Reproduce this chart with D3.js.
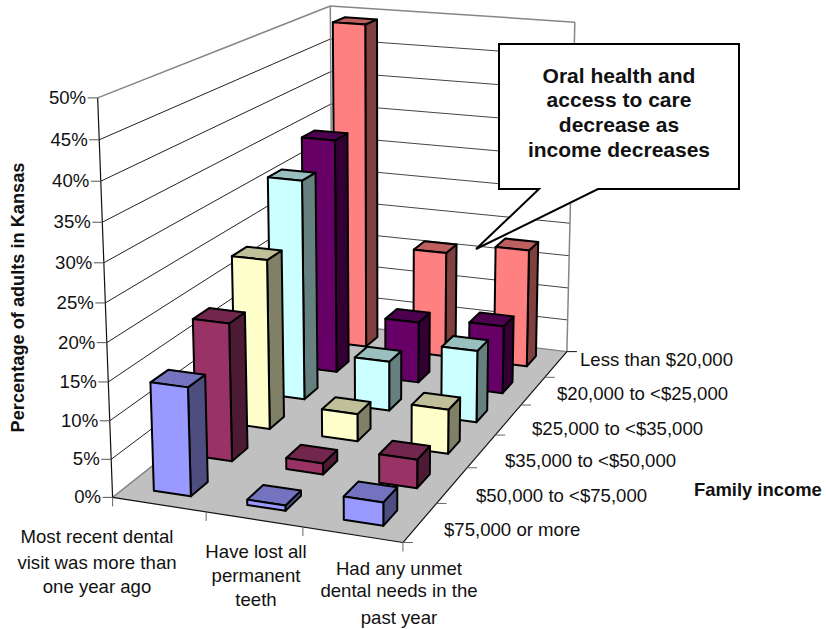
<!DOCTYPE html>
<html><head><meta charset="utf-8">
<script src="https://cdn.jsdelivr.net/npm/d3@7"></script>
<style>html,body{margin:0;padding:0;background:#fff}svg{display:block}text{font-family:"Liberation Sans",Arial,sans-serif;fill:#111}</style>
</head><body><div id="c"></div>
<script>
// ---- data ----
const measures = ["Most recent dental visit was more than one year ago","Have lost all permanent teeth","Had any unmet dental needs in the past year"];
const incomes = ["$75,000 or more","$50,000 to <$75,000","$35,000 to <$50,000","$25,000 to <$35,000","$20,000 to <$25,000","Less than $20,000"];
const v75plus = [14.2, 0.7, 3];
const v50to75 = [18.6, 1.5, 3.8];
const v35to50 = [23.6, 3.8, 6.1];
const v25to35 = [31.5, 7.1, 10.2];
const v20to25 = [34.5, 9, 9.9];
const vUnder20 = [49.1, 16, 17.7];
const seriesValues = [v75plus, v50to75, v35to50, v25to35, v20to25, vUnder20];
const seriesColors = ["#9999FF","#993366","#FFFFCC","#CCFFFF","#660066","#FF8080"];
const yTickValues = d3.range(0,51,5);
const calloutLines = ["Oral health and","access to care","decrease as","income decreases"];

// ---- layout ----
const W=826,H=629;
const svg=d3.select("#c").append("svg").attr("width",W).attr("height",H);
const xBand=d3.scaleBand().domain(d3.range(3)).range([0,1]).paddingInner(0.6).paddingOuter(0.3);
const zBand=d3.scaleBand().domain(d3.range(6)).range([0,1]).paddingInner(0.6).paddingOuter(0.3);
const yScale=d3.scaleLinear().domain([0,50]).range([0,1]);

// calibration of the perspective camera: [x,y,z] in the unit cube -> pixel
const calib=[
 [0,0,0,111.5,498.5],[1,0,0,402.5,540],[1,0,1,566.5,353],[0,0,1,334.5,321],
 [0,1,0,98.5,98],[0,1,1,329,7],[1,1,1,575.5,21],
 [1/3,0,0,205.5,513],[2/3,0,0,302.5,527],
 [1,0,1/6,439.5,503],[1,0,2/6,467.5,467],[1,0,3/6,494.5,436],[1,0,4/6,519.5,406],[1,0,5/6,544.5,378]
];
function solve(A,b){const n=b.length;const M=A.map((r,i)=>[...r,b[i]]);
 for(let i=0;i<n;i++){let p=i;for(let k=i+1;k<n;k++)if(Math.abs(M[k][i])>Math.abs(M[p][i]))p=k;
  [M[i],M[p]]=[M[p],M[i]];
  for(let k=i+1;k<n;k++){const f=M[k][i]/M[i][i];for(let j=i;j<=n;j++)M[k][j]-=f*M[i][j];}}
 const x=Array(n).fill(0);for(let i=n-1;i>=0;i--){let s=M[i][n];for(let j=i+1;j<n;j++)s-=M[i][j]*x[j];x[i]=s/M[i][i];}return x;}
const rows=[],rhs=[];
calib.forEach(([X,Y,Z,u,v])=>{rows.push([X,Y,Z,1,0,0,0,0,-u*X,-u*Y,-u*Z]);rhs.push(u);rows.push([0,0,0,0,X,Y,Z,1,-v*X,-v*Y,-v*Z]);rhs.push(v);});
const ATA=d3.range(11).map(i=>d3.range(11).map(j=>d3.sum(rows,r=>r[i]*r[j])));
const ATb=d3.range(11).map(i=>d3.sum(rows,(r,k)=>r[i]*rhs[k]));
const P=solve(ATA,ATb);
function proj(X,Y,Z){const w=P[8]*X+P[9]*Y+P[10]*Z+1;return [(P[0]*X+P[1]*Y+P[2]*Z+P[3])/w,(P[4]*X+P[5]*Y+P[6]*Z+P[7])/w];}
const line=d3.line();
const poly=pts=>line(pts.map(p=>proj(...p)))+"Z";
const seg=(g,a,b,color,w)=>g.append("path").attr("d",line([proj(...a),proj(...b)])).attr("fill","none").attr("stroke",color).attr("stroke-width",w);

const shade=(c,k)=>{const r=d3.rgb(c);return d3.rgb(r.r*k,r.g*k,r.b*k).formatHex();};

// floor
const g=svg.append("g");
g.append("path").attr("d",poly([[0,0,0],[1,0,0],[1,0,1],[0,0,1]])).attr("fill","#C0C0C0").attr("stroke","none");
// gridlines
yTickValues.filter(v=>v>0&&v<50).forEach(v=>{const y=yScale(v);
 seg(g,[0,y,0],[0,y,1],"#222",1);
 seg(g,[0,y,1],[1,y,1],"#444",1);
});
// wall outline
const grey="#868686";
seg(g,[0,1,0],[0,1,1],grey,1.5);
seg(g,[0,1,1],[1,1,1],grey,1.5);
seg(g,[0,1,1],[0,0,1],grey,1.5);
seg(g,[1,1,1],[1,0,1],grey,1.5);
seg(g,[0,0,0],[0,0,1],grey,1.5);
seg(g,[0,0,1],[1,0,1],grey,1.5);
// axis lines
seg(g,[0,0,0],[0,1,0],"#111",1.2);
seg(g,[0,0,0],[1,0,0],"#111",1.2);
seg(g,[1,0,0],[1,0,1],"#111",1.2);
// y ticks and labels
yTickValues.forEach(v=>{const [px,py]=proj(0,yScale(v),0);
 g.append("line").attr("x1",px-10).attr("x2",px).attr("y1",py).attr("y2",py).attr("stroke","#555").attr("stroke-width",1);
 g.append("text").attr("x",px-11.5).attr("y",py+6).attr("text-anchor","end").attr("font-size",18.6).text(v+"%");
});
// x ticks
d3.range(4).forEach(i=>{const [px,py]=proj(i/3,0,0);
 g.append("line").attr("x1",px).attr("x2",px).attr("y1",py).attr("y2",py+9).attr("stroke","#666").attr("stroke-width",1);});
// z ticks
d3.range(7).forEach(i=>{const [px,py]=proj(1,0,i/6);
 g.append("line").attr("x1",px).attr("x2",px+10).attr("y1",py).attr("y2",py).attr("stroke",i==6?"#111":"#666").attr("stroke-width",1);});

// bars: back row first, left to right
const bars=svg.append("g").attr("stroke","#000").attr("stroke-width",2).attr("stroke-linejoin","round");
d3.range(5,-1,-1).forEach(s=>{
 d3.range(3).forEach(c=>{
  const x0=xBand(c),x1=x0+xBand.bandwidth(),z0=zBand(s),z1=z0+zBand.bandwidth(),y=yScale(seriesValues[s][c]),col=seriesColors[s];
  bars.append("path").attr("d",poly([[x1,0,z0],[x1,0,z1],[x1,y,z1],[x1,y,z0]])).attr("fill",shade(col,0.5));
  bars.append("path").attr("d",poly([[x0,y,z0],[x1,y,z0],[x1,y,z1],[x0,y,z1]])).attr("fill",shade(col,0.75));
  bars.append("path").attr("d",poly([[x0,0,z0],[x1,0,z0],[x1,y,z0],[x0,y,z0]])).attr("fill",col);
 });
});

// category labels
const catLines=[["Most recent dental","visit was more than","one year ago"],["Have lost all","permanent","teeth"],["Had any unmet","dental needs in the","past year"]];
const catCx=[97,256,399], catYs=[[543,569,593],[558,582,606],[575,597,624]];
catLines.forEach((ls,i)=>ls.forEach((t,j)=>svg.append("text").attr("x",catCx[i]).attr("y",catYs[i][j]).attr("text-anchor","middle").attr("font-size",18.6).text(t)));
// depth labels
const depthX=[444,476,505,532,557,580], depthY=[536,502,467,435,400,366];
incomes.forEach((t,i)=>svg.append("text").attr("x",depthX[i]).attr("y",depthY[i]).attr("font-size",18.6).text(t));
// axis titles
svg.append("text").attr("x",694).attr("y",496).attr("font-size",18.4).attr("font-weight","bold").text("Family income");
svg.append("text").attr("transform","translate(24,297.5) rotate(-90)").attr("text-anchor","middle").attr("font-size",18.2).attr("font-weight","bold").text("Percentage of adults in Kansas");

// callout
svg.append("path").attr("d","M499,44H739V189H598L476,249L539,189H499Z").attr("fill","#fff").attr("stroke","#000").attr("stroke-width",2).attr("stroke-linejoin","miter");
const callY=[83,107,132,157];
calloutLines.forEach((t,i)=>svg.append("text").attr("x",619).attr("y",callY[i]).attr("text-anchor","middle").attr("font-size",21).attr("font-weight","bold").text(t));
</script></body></html>
